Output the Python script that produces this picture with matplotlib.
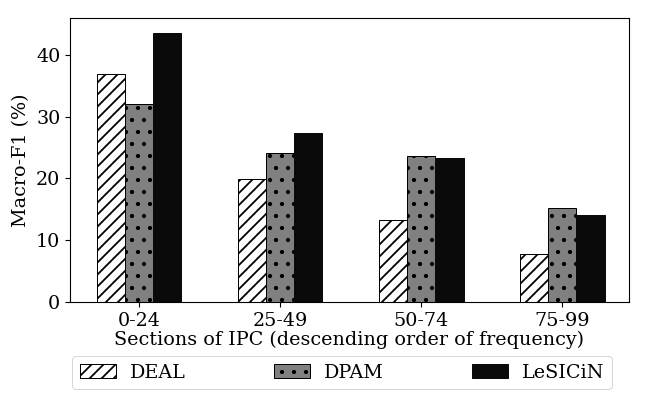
import matplotlib.pyplot as plt
import numpy as np

# drawn at 72 dpi so the hatch spacing matches the reference
S = 100 / 72
plt.rcParams['font.family'] = 'DejaVu Serif'
plt.rcParams['hatch.linewidth'] = 1.8
plt.rcParams['axes.linewidth'] = 0.8 * S
plt.rcParams['xtick.major.width'] = 0.8 * S
plt.rcParams['ytick.major.width'] = 0.8 * S
plt.rcParams['xtick.major.size'] = 3.5 * S
plt.rcParams['ytick.major.size'] = 3.5 * S

sections = ['0-24', '25-49', '50-74', '75-99']
deal = [36.9, 19.9, 13.2, 7.7]
dpam = [32.0, 24.1, 23.6, 15.2]
lesicin = [43.6, 27.3, 23.3, 14.1]

x = np.arange(len(sections))
w = 0.2
fs = 13.8 * S

fig = plt.figure(figsize=(648 / 72, 417 / 72), dpi=72)
ax = fig.add_axes([0.108, 0.276, 0.862, 0.681])

ax.bar(x - w, deal, w, color='white', edgecolor='black', hatch='//', linewidth=1.0, label='DEAL')
ax.bar(x, dpam, w, color='#808080', edgecolor='black', hatch='.', linewidth=1.0, label='DPAM')
ax.bar(x + w, lesicin, w, color='#0a0a0a', edgecolor='#0a0a0a', linewidth=1.0, label='LeSICiN')

ax.set_xticks(x)
ax.set_xticklabels(sections, fontsize=fs)
ax.tick_params(axis='both', pad=3.5 * S)
ax.tick_params(axis='y', labelsize=fs)
ax.set_xlim(-0.49, 3.47)
ax.set_ylim(0, 46)
ax.set_yticks([0, 10, 20, 30, 40])
ax.set_xlabel('Sections of IPC (descending order of frequency)', fontsize=fs, labelpad=1)
ax.set_ylabel('Macro-F1 (%)', fontsize=fs, labelpad=4 * S)

ax.legend(loc='upper left', bbox_to_anchor=(0.004, -0.19, 0.966, 0), ncol=3,
          mode='expand', fontsize=fs, handlelength=1.9, handletextpad=0.7,
          borderaxespad=0)

fig.savefig('out.png', dpi=72)
